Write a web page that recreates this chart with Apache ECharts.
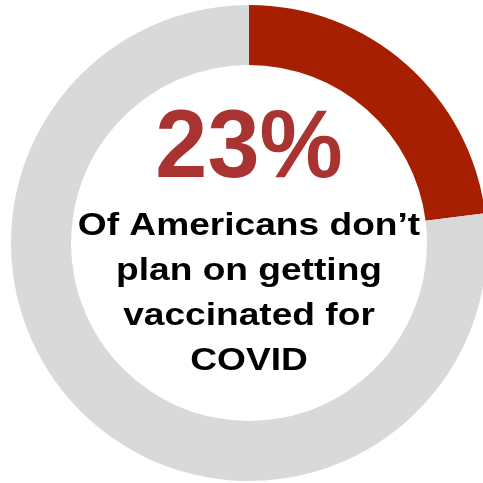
<!DOCTYPE html>
<html>
<head>
<meta charset="utf-8">
<script src="https://cdn.jsdelivr.net/npm/echarts@6/dist/echarts.min.js"></script>
<style>html,body{margin:0;padding:0;background:#fff}#c{width:483px;height:483px}</style>
</head>
<body>
<div id="c"></div>
<script>
var categories = ["Don\u2019t plan to vaccinate", "Other"];
var values = [23, 77];
var headline = "23%";
var caption = ["Of Americans don\u2019t", "plan on getting", "vaccinated for", "COVID"];

var chart = echarts.init(document.getElementById('c'), null, {renderer: 'canvas'});
chart.setOption({
  animation: false,
  backgroundColor: '#ffffff',
  series: [{
    type: 'pie',
    center: [249, 243],
    radius: [178, 238],
    startAngle: 90,
    clockwise: true,
    silent: true,
    label: {show: false},
    labelLine: {show: false},
    itemStyle: {borderWidth: 0},
    data: categories.map(function (c, i) {
      return {name: c, value: values[i], itemStyle: {color: i === 0 ? '#A51F00' : '#D9D9D9'}};
    })
  }],
  graphic: [{
    type: 'text',
    x: 249, y: 199,
    scaleX: 0.965,
    style: {
      text: headline,
      font: 'bold 97px "Liberation Sans", Arial, sans-serif',
      fill: '#A83330',
      textAlign: 'center',
      textVerticalAlign: 'bottom'
    }
  }, {
    type: 'text',
    x: 249, y: 204,
    scaleX: 1.16,
    style: {
      text: caption.join('\n'),
      font: 'bold 32px "Liberation Sans", Arial, sans-serif',
      fill: '#000000',
      textAlign: 'center',
      textVerticalAlign: 'top',
      lineHeight: 45
    }
  }]
});
</script>
</body>
</html>
